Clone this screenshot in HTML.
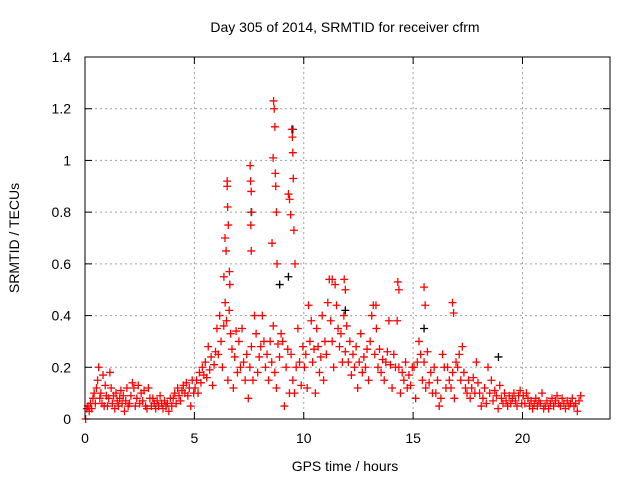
<!DOCTYPE html>
<html><head><meta charset="utf-8"><style>
html,body{margin:0;padding:0;background:#fff}
svg{display:block;font-family:"Liberation Sans",sans-serif}
</style></head><body>
<svg id="chart" width="640" height="480">
<text x="345" y="32" text-anchor="middle" font-size="14">Day 305 of 2014, SRMTID for receiver cfrm</text>
<text x="345" y="471" text-anchor="middle" font-size="14">GPS time / hours</text>
<text transform="translate(19,238) rotate(-90)" text-anchor="middle" font-size="14">SRMTID / TECUs</text>
<g id="grid"></g><g id="ticks"></g><g id="marks"></g>
<rect x="85" y="57" width="525" height="362" fill="none" stroke="#000" stroke-width="1"/>
</svg>
<script>
const xTicks=[0,5,10,15,20];
const yTicks=[0,0.2,0.4,0.6,0.8,1,1.2,1.4];
const yTickLabels=["0","0.2","0.4","0.6","0.8","1","1.2","1.4"];
const bucketStart=[0,0.5,1,2,3,4,5,6,7,8,9,10,11,12,13,14,15,16,17,18,19,20,21];
const bucketEnd=[0.5,1,2,3,4,5,6,7,8,9,10,11,12,13,14,15,16,17,18,19,20,21,22.7];
const redValues=[
[0.0,0.04,0.05,0.03,0.06,0.04,0.08,0.1,0.06],
[0.12,0.15,0.2,0.08,0.1,0.06,0.17,0.05,0.13,0.09],
[0.05,0.08,0.18,0.12,0.06,0.09,0.04,0.1,0.07,0.05,0.08,0.11,0.06,0.09,0.03,0.07,0.12,0.05],
[0.06,0.09,0.14,0.12,0.05,0.08,0.13,0.06,0.1,0.07,0.11,0.05,0.04,0.12,0.08],
[0.05,0.08,0.06,0.04,0.07,0.05,0.09,0.06,0.04,0.07,0.05,0.06,0.03,0.08,0.05],
[0.08,0.1,0.06,0.12,0.09,0.07,0.11,0.13,0.1,0.14,0.09,0.12,0.05,0.15,0.1],
[0.12,0.15,0.1,0.18,0.14,0.2,0.17,0.22,0.16,0.28,0.19,0.24,0.13,0.21,0.26],
[0.35,0.25,0.4,0.3,0.2,0.36,0.45,0.38,0.15,0.42,0.33,0.27,0.12,0.24,0.34,0.18],
[0.3,0.2,0.35,0.22,0.15,0.25,0.08,0.2,0.28,0.15,0.4,0.33,0.18,0.24],
[0.28,0.4,0.3,0.2,0.25,0.15,0.3,0.22,0.36,0.18,0.12,0.29,0.24,0.33],
[0.3,0.05,0.2,0.27,0.1,0.25,0.15,0.1,0.2,0.35,0.22,0.13,0.28],
[0.2,0.25,0.12,0.44,0.3,0.38,0.22,0.27,0.1,0.35,0.28,0.18,0.24,0.4,0.15,0.3],
[0.25,0.45,0.54,0.38,0.3,0.2,0.52,0.44,0.35,0.28,0.33,0.22,0.4,0.26,0.36],
[0.22,0.3,0.17,0.25,0.2,0.28,0.12,0.22,0.33,0.18,0.24,0.2,0.27,0.15],
[0.3,0.4,0.44,0.25,0.35,0.2,0.27,0.18,0.23,0.15,0.22,0.26,0.38,0.21],
[0.12,0.25,0.2,0.38,0.2,0.1,0.18,0.15,0.22,0.12,0.17,0.13,0.2],
[0.2,0.08,0.22,0.3,0.25,0.15,0.22,0.12,0.26,0.14,0.18,0.1,0.2],
[0.1,0.15,0.05,0.08,0.25,0.2,0.12,0.2,0.15,0.12,0.18,0.08,0.22],
[0.2,0.25,0.15,0.28,0.18,0.12,0.1,0.15,0.08,0.12,0.16,0.1,0.22,0.14],
[0.1,0.05,0.08,0.12,0.06,0.2,0.1,0.15,0.07,0.11,0.09,0.04,0.13],
[0.08,0.06,0.1,0.07,0.05,0.09,0.06,0.08,0.1,0.07,0.05,0.09,0.11,0.06],
[0.09,0.06,0.1,0.08,0.05,0.07,0.04,0.06,0.08,0.05,0.07,0.06,0.1,0.04],
[0.05,0.07,0.04,0.06,0.08,0.05,0.07,0.09,0.06,0.05,0.08,0.06,0.04,0.07,0.05,0.06,0.08,0.05,0.06,0.03,0.07,0.09]
];
const spikeTimes=[6.4,6.45,6.5,6.5,6.52,6.55,6.6,6.62,7.55,7.57,7.6,7.62,7.58,7.6,8.6,8.62,8.65,8.68,8.7,8.72,8.75,8.78,9.3,9.35,9.4,9.45,9.48,9.5,9.52,9.55,11.3,11.85,11.9,14.3,14.35,15.5,15.55,16.8,16.85,13.3,6.35,8.55,9.6];
const spikeValues=[0.7,0.65,0.92,0.9,0.82,0.75,0.57,0.52,0.98,0.92,0.88,0.8,0.75,0.65,1.01,1.23,1.2,1.13,0.95,0.9,0.8,0.6,0.87,0.85,0.79,1.12,1.09,1.03,0.93,0.73,0.54,0.54,0.5,0.53,0.5,0.51,0.44,0.45,0.41,0.44,0.55,0.68,0.6];
const blackTimes=[7.6,8.9,9.3,9.5,11.9,15.5,18.9];
const blackValues=[0.8,0.52,0.55,1.12,0.42,0.35,0.24];

const NS="http://www.w3.org/2000/svg";
const X0=85,X1=610,Y0=419,Y1=57;
function xs(t){return X0+(t/24)*(X1-X0);}
function ys(v){return Y0-(v/1.4)*(Y0-Y1);}
function mk(tag,attrs,parent){const e=document.createElementNS(NS,tag);for(const k in attrs)e.setAttribute(k,attrs[k]);parent.appendChild(e);return e;}
const grid=document.getElementById('grid'),ticks=document.getElementById('ticks'),marks=document.getElementById('marks');
xTicks.forEach(t=>{
  const x=xs(t);
  if(t>0){const g=mk('line',{x1:x,x2:x,y1:Y1,y2:Y0,stroke:'#a0a0a0','stroke-dasharray':'2,3'},grid);
  
  }
  mk('line',{x1:x,x2:x,y1:Y0,y2:Y0-7,stroke:'#000'},ticks);
  mk('line',{x1:x,x2:x,y1:Y1,y2:Y1+7,stroke:'#000'},ticks);
  const l=mk('text',{x:x,y:Y0+24,'text-anchor':'middle','font-size':'14'},ticks);
  l.textContent=String(t);
  
  
});
yTicks.forEach((v,i)=>{
  const y=ys(v);
  if(v>0&&v<1.4){const g=mk('line',{x1:X0,x2:X1,y1:y,y2:y,stroke:'#a0a0a0','stroke-dasharray':'2,3'},grid);
  
  }
  mk('line',{x1:X0,x2:X0+7,y1:y,y2:y,stroke:'#000'},ticks);
  mk('line',{x1:X1,x2:X1-7,y1:y,y2:y,stroke:'#000'},ticks);
  const l=mk('text',{x:X0-14,y:y+5,'text-anchor':'end','font-size':'14'},ticks);
  l.textContent=yTickLabels[i];
  
  
});
function plus(t,v,color,name){
  const x=xs(t),y=ys(v);
  const p=mk('path',{d:`M${x-4},${y}H${x+4}M${x},${y-4}V${y+4}`,stroke:color,'stroke-width':'1.3',fill:'none'},marks);
  
  
}
blackTimes.forEach((t,i)=>plus(t,blackValues[i],'#000','black-point'));
redValues.forEach((arr,b)=>{
  const s=bucketStart[b],e=bucketEnd[b];
  arr.forEach((v,i)=>plus(s+(e-s)*(i+0.5)/arr.length,v,'#ff0000','red-point'));
});
spikeTimes.forEach((t,i)=>plus(t,spikeValues[i],'#ff0000','red-spike-point'));
</script>
</body></html>
